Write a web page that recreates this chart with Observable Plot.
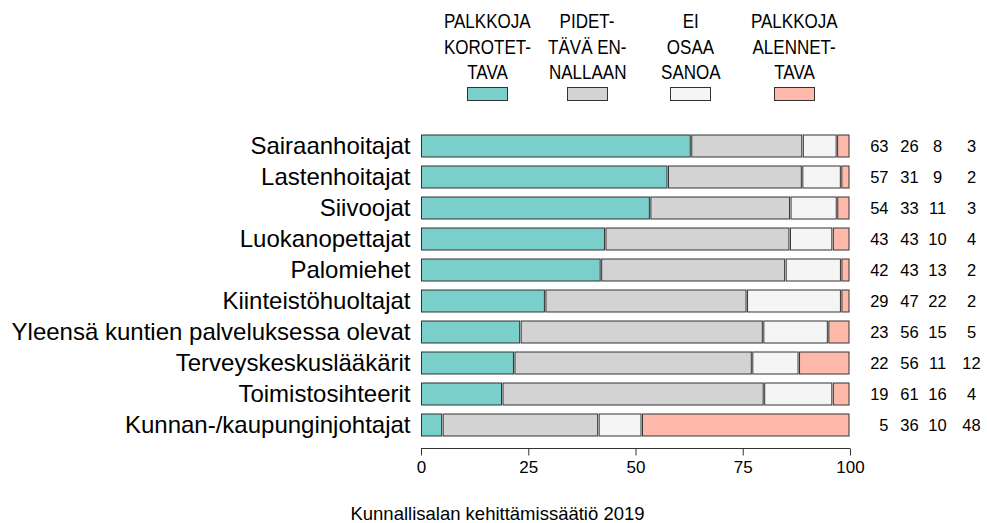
<!DOCTYPE html>
<html>
<head>
<meta charset="utf-8">
<script src="https://cdn.jsdelivr.net/npm/d3@7"></script>
<script src="https://cdn.jsdelivr.net/npm/@observablehq/plot@0.6"></script>
<style>
  html, body { margin: 0; padding: 0; background: #fff; overflow: hidden; }
  #root { position: relative; width: 987px; height: 523px; font-family: "Liberation Sans", Arial, sans-serif; color: #000; }
  .leg { position: absolute; top: 8px; width: 130px; text-align: center; font-size: 20.5px; line-height: 25.5px; }
  .leg span { display: inline-block; transform: scaleX(0.83); white-space: nowrap; }
  .sw { position: absolute; top: 87px; width: 41px; height: 14px; box-sizing: border-box; border: 1px solid #333; }
  #chart { position: absolute; top: 110px; left: 0; }
  #caption { position: absolute; top: 503px; left: 4px; width: 987px; text-align: center; font-size: 18.5px; line-height: 22px; }
</style>
</head>
<body>
<div id="root">
  <div id="legend"></div>
  <div id="chart"></div>
  <div id="caption">Kunnallisalan kehittämissäätiö 2019</div>
</div>
<script>
const categories = ["Sairaanhoitajat", "Lastenhoitajat", "Siivoojat", "Luokanopettajat", "Palomiehet",
  "Kiinteistöhuoltajat", "Yleensä kuntien palveluksessa olevat", "Terveyskeskuslääkärit",
  "Toimistosihteerit", "Kunnan-/kaupunginjohtajat"];
const raise = [63, 57, 54, 43, 42, 29, 23, 22, 19, 5];
const keep  = [26, 31, 33, 43, 43, 47, 56, 56, 61, 36];
const dunno = [8, 9, 11, 10, 13, 22, 15, 11, 16, 10];
const cut   = [3, 2, 3, 4, 2, 2, 5, 12, 4, 48];
const seriesKeys = ["Palkkoja korotettava", "Pidettävä ennallaan", "Ei osaa sanoa", "Palkkoja alennettava"];
const legendLines = [["PALKKOJA", "KOROTET-", "TAVA"], ["PIDET-", "TÄVÄ EN-", "NALLAAN"], ["EI", "OSAA", "SANOA"], ["PALKKOJA", "ALENNET-", "TAVA"]];
const xTicks = [0, 25, 50, 75, 100];

const colors = ["#7acfcb", "#d3d3d3", "#f5f5f5", "#ffb9aa"];
const seriesValues = [raise, keep, dunno, cut];

const rows = [];
categories.forEach((job, i) => {
  seriesKeys.forEach((s, k) => rows.push({job, series: s, value: seriesValues[k][i]}));
});

const W = 987, H = 380, mL = 421, mR = 137, mT = 13, mB = 41.5;
const FONT = '"Liberation Sans", Arial, sans-serif';

const numCol = (arr, dx, anchor) => Plot.text(categories, {
  y: d => d, text: (d, i) => arr[i], frameAnchor: "right", dx, textAnchor: anchor,
  fontSize: 16.5, fill: "black"
});

const plot = Plot.plot({
  width: W, height: H, marginLeft: mL, marginRight: mR, marginTop: mT, marginBottom: mB,
  style: {fontFamily: FONT, color: "black", background: "transparent", overflow: "visible"},
  x: {domain: [0, 1], label: null},
  y: {domain: categories, padding: 0.3, label: null},
  color: {domain: seriesKeys, range: colors},
  marks: [
    Plot.barX(rows, Plot.stackX({offset: "normalize", x: "value", y: "job", fill: "series",
      stroke: "#333", strokeWidth: 1, insetLeft: 0.5, insetRight: 1})),
    Plot.axisX({ticks: xTicks.map(d => d / 100), tickFormat: d => Math.round(d * 100),
      tickSize: 7, tickPadding: 5, fontSize: 17, label: null, stroke: "#333"}),
    Plot.axisY({tickSize: 0, tickPadding: 11, fontSize: 24, label: null}),
    numCol(raise, 38, "end"),
    numCol(keep, 59, "middle"),
    numCol(dunno, 87, "middle"),
    numCol(cut, 121, "middle")
  ]
});

// axis baseline along the x scale's range
const xs = plot.scale("x");
d3.select(plot).append("line")
  .attr("x1", xs.apply(0)).attr("x2", xs.apply(1))
  .attr("y1", H - mB).attr("y2", H - mB)
  .attr("stroke", "#333").attr("stroke-width", 1);

document.getElementById("chart").appendChild(plot);

// legend
const legCenters = [487.5, 587.5, 690.5, 794];
const leg = document.getElementById("legend");
legendLines.forEach((lines, i) => {
  const d = document.createElement("div");
  d.className = "leg";
  d.style.left = (legCenters[i] - 65) + "px";
  d.innerHTML = lines.map(t => `<div><span>${t}</span></div>`).join("");
  leg.appendChild(d);
  const s = document.createElement("div");
  s.className = "sw";
  s.style.left = (legCenters[i] - 20.5) + "px";
  s.style.background = colors[i];
  leg.appendChild(s);
});
</script>
</body>
</html>
